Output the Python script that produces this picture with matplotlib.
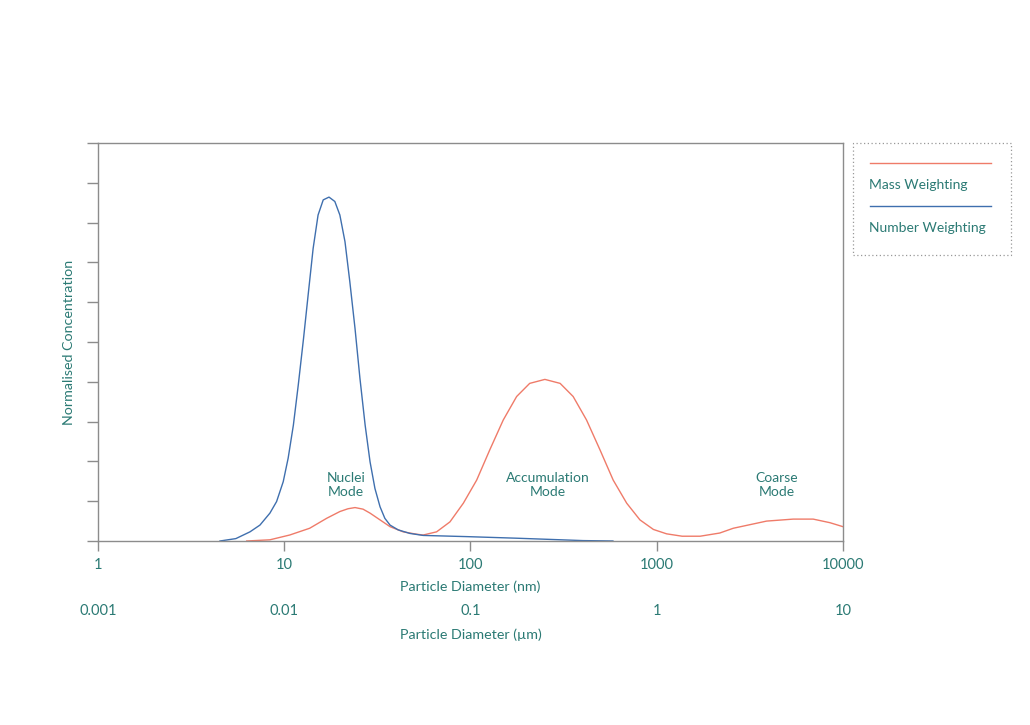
"""Particle size distribution: mass vs number weighting"""

import matplotlib.pyplot as plt
from matplotlib.lines import Line2D
from matplotlib.patches import Rectangle

plt.rcParams['font.family'] = ['Lato', 'DejaVu Sans']

TEXT = '#2b7a74'
GREY = '#8c8c8c'
BLUE = '#3f6fae'
RED = '#ef7b69'

# number weighting (diameter in nm, normalised concentration)
number_d = [4.52, 5.5, 6.55, 7.41, 8.38, 9.10, 9.88, 10.5, 11.2, 11.9, 12.7,
            13.5, 14.3, 15.2, 16.2, 17.4, 18.7, 19.9, 21.2, 22.5, 24.0, 25.5,
            27.2, 28.9, 30.7, 32.7, 34.7, 37.0, 40.9, 47.3, 55.7, 95.4, 177.0,
            267.0, 402.0, 582.0]
number_c = [0.0, 0.06, 0.23, 0.40, 0.70, 0.99, 1.49, 2.08, 2.91, 3.92, 5.09,
            6.26, 7.35, 8.19, 8.57, 8.64, 8.53, 8.19, 7.52, 6.52, 5.34, 4.09,
            2.91, 1.99, 1.32, 0.86, 0.57, 0.40, 0.28, 0.19, 0.14, 0.11, 0.07,
            0.04, 0.01, 0.0]

# mass weighting
mass_d = [6.29, 8.38, 10.7, 13.7, 16.9, 19.9, 22.0, 24.0, 26.5, 28.9, 32.7,
          37.0, 43.5, 51.5, 55.7, 65.8, 77.6, 91.6, 108.0, 127.0, 150.0, 177.0,
          208.0, 251.0, 303.0, 356.0, 420.0, 496.0, 584.0, 690.0, 813.0, 960.0,
          1130.0, 1370.0, 1710.0, 2180.0, 2577.0, 3890.0, 5410.0, 6920.0,
          8510.0, 10000.0]
mass_c = [0.0, 0.03, 0.15, 0.32, 0.57, 0.74, 0.81, 0.84, 0.80, 0.70, 0.53,
          0.36, 0.23, 0.17, 0.15, 0.23, 0.48, 0.95, 1.53, 2.29, 3.04, 3.63,
          3.96, 4.06, 3.96, 3.63, 3.04, 2.29, 1.53, 0.95, 0.53, 0.29,
          0.18, 0.12, 0.12, 0.20, 0.32, 0.50, 0.55, 0.55,
          0.46, 0.36]

x_ticks = [1, 10, 100, 1000, 10000]
x_labels = ['1', '10', '100', '1000', '10000']
um_labels = ['0.001', '0.01', '0.1', '1', '10']

modes = ['Nuclei\nMode', 'Accumulation\nMode', 'Coarse\nMode']
mode_x = [21.5, 261, 4425]
mode_y = [1.41, 1.41, 1.41]

fig = plt.figure(figsize=(10.3, 7.25), dpi=100)
ax = fig.add_axes([0.0951, 0.2538, 0.7233, 0.549])

ax.plot(mass_d, mass_c, color=RED, lw=1.0, label='Mass Weighting')
ax.plot(number_d, number_c, color=BLUE, lw=1.0, label='Number Weighting')

ax.set_xscale('log')
ax.set_xlim(1, 10000)
ax.set_ylim(0, 10)
ax.set_xticks(x_ticks)
ax.set_xticklabels(x_labels)
ax.minorticks_off()
ax.set_yticks(range(11))
ax.set_yticklabels([])

for s in ax.spines.values():
    s.set_color(GREY)
    s.set_linewidth(1.0)
ax.tick_params(axis='x', direction='out', length=7, width=1.0, color=GREY,
               labelcolor=TEXT, labelsize=10.5, pad=5)
ax.tick_params(axis='y', direction='out', length=8, width=1.0, color=GREY)

ax.set_xlabel('Particle Diameter (nm)', color=TEXT, fontsize=10.3, labelpad=6)
ax.set_ylabel('Normalised Concentration', color=TEXT, fontsize=10.3, labelpad=5)

sec = ax.secondary_xaxis(-0.145, functions=(lambda x: x / 1000, lambda x: x * 1000))
sec.set_xticks([t / 1000 for t in x_ticks])
sec.set_xticklabels(um_labels)
sec.minorticks_off()
sec.spines['bottom'].set_visible(False)
sec.tick_params(axis='x', length=0, labelcolor=TEXT, labelsize=10.5, pad=4)
sec.set_xlabel('Particle Diameter (µm)', color=TEXT, fontsize=10.3, labelpad=7)

for txt, x, y in zip(modes, mode_x, mode_y):
    ax.text(x, y, txt, color=TEXT, fontsize=10, ha='center', va='center',
            linespacing=1.15)

# legend box drawn by hand (line above label)
fig.patches.append(Rectangle((853 / 1030, 1 - 255 / 725), 158 / 1030, 112 / 725,
                             transform=fig.transFigure, fill=False,
                             edgecolor='#999999', lw=0.9, ls=(0, (1, 2))))
names = ['Mass Weighting', 'Number Weighting']
for i, (name, col) in enumerate(zip(names, [RED, BLUE])):
    ly = 1 - (163 + 43 * i) / 725
    fig.lines.append(Line2D([870 / 1030, 991 / 1030], [ly, ly],
                            transform=fig.transFigure, color=col, lw=1.0))
    fig.text(869 / 1030, 1 - (185 + 43 * i) / 725, name, color=TEXT,
             fontsize=10, va='center', ha='left')

fig.savefig('out.png', dpi=100, facecolor='white')
